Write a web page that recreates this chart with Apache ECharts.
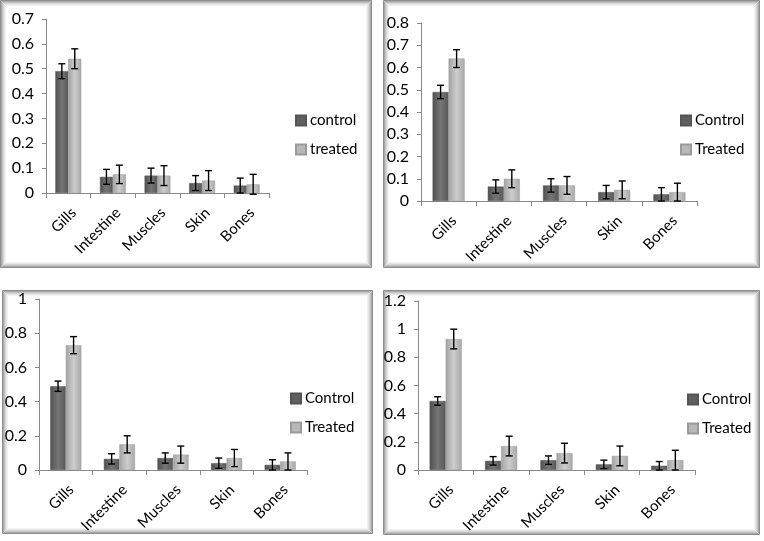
<!DOCTYPE html>
<html>
<head>
<meta charset="utf-8">
<script src="https://cdn.jsdelivr.net/npm/echarts@6/dist/echarts.min.js"></script>
<style>html,body{margin:0;padding:0;background:#fff;}#c{width:764px;height:541px;}</style>
</head>
<body>
<div id="c"></div>
<script>
const categories = ['Gills', 'Intestine', 'Muscles', 'Skin', 'Bones'];

// Panel 1 (top-left)
const p1Names = ['control', 'treated'];
const p1Control = [0.49, 0.065, 0.07, 0.04, 0.03];
const p1ControlErr = [0.03, 0.03, 0.03, 0.03, 0.03];
const p1Treated = [0.54, 0.075, 0.07, 0.05, 0.035];
const p1TreatedErr = [0.04, 0.037, 0.04, 0.04, 0.04];
const p1Axis = { max: 0.7, interval: 0.1 };

// Panel 2 (top-right)
const p2Names = ['Control', 'Treated'];
const p2Control = [0.49, 0.065, 0.07, 0.04, 0.03];
const p2ControlErr = [0.03, 0.03, 0.03, 0.03, 0.03];
const p2Treated = [0.64, 0.10, 0.07, 0.05, 0.04];
const p2TreatedErr = [0.04, 0.04, 0.04, 0.04, 0.04];
const p2Axis = { max: 0.8, interval: 0.1 };

// Panel 3 (bottom-left)
const p3Names = ['Control', 'Treated'];
const p3Control = [0.49, 0.065, 0.07, 0.04, 0.03];
const p3ControlErr = [0.03, 0.03, 0.03, 0.03, 0.03];
const p3Treated = [0.73, 0.15, 0.09, 0.07, 0.05];
const p3TreatedErr = [0.05, 0.05, 0.05, 0.05, 0.05];
const p3Axis = { max: 1, interval: 0.2 };

// Panel 4 (bottom-right)
const p4Names = ['Control', 'Treated'];
const p4Control = [0.49, 0.065, 0.07, 0.04, 0.03];
const p4ControlErr = [0.03, 0.03, 0.03, 0.03, 0.03];
const p4Treated = [0.93, 0.17, 0.12, 0.10, 0.07];
const p4TreatedErr = [0.07, 0.07, 0.07, 0.07, 0.07];
const p4Axis = { max: 1.2, interval: 0.2 };

const panels = [
  { names: p1Names, c: p1Control, ce: p1ControlErr, t: p1Treated, te: p1TreatedErr, axis: p1Axis,
    grid: { left: 46, top: 19, width: 223, height: 174 }, legend: { left: 290, top: 108 },
    frame: [0, 0, 372, 268] },
  { names: p2Names, c: p2Control, ce: p2ControlErr, t: p2Treated, te: p2TreatedErr, axis: p2Axis,
    grid: { left: 421, top: 23, width: 276, height: 178 }, legend: { left: 675, top: 108 },
    frame: [383, 0, 377, 268] },
  { names: p3Names, c: p3Control, ce: p3ControlErr, t: p3Treated, te: p3TreatedErr, axis: p3Axis,
    grid: { left: 39, top: 299, width: 268, height: 171 }, legend: { left: 285, top: 386 },
    frame: [2, 290, 371, 244] },
  { names: p4Names, c: p4Control, ce: p4ControlErr, t: p4Treated, te: p4TreatedErr, axis: p4Axis,
    grid: { left: 418, top: 301, width: 277, height: 169 }, legend: { left: 682, top: 387 },
    frame: [383, 290, 377, 245] }
];

const FONT = 'Lato';
const controlColor = new echarts.graphic.LinearGradient(0, 0, 1, 0, [
  { offset: 0, color: '#4f4f4f' }, { offset: 0.5, color: '#767676' }, { offset: 1, color: '#585858' }]);
const treatedColor = new echarts.graphic.LinearGradient(0, 0, 1, 0, [
  { offset: 0, color: '#a2a2a2' }, { offset: 0.5, color: '#cdcdcd' }, { offset: 1, color: '#a8a8a8' }]);

const grids = [], xAxes = [], yAxes = [], series = [], legends = [], graphics = [];

function errRender(sign) {
  return function (params, api) {
    const idx = api.value(0);
    const lo = api.coord([idx, api.value(1)]);
    const hi = api.coord([idx, api.value(2)]);
    const band = api.size([1, 0])[0];
    const x = lo[0] + sign * band * 0.145;
    const cap = 3.5;
    const st = { stroke: '#000', lineWidth: 1.4 };
    return {
      type: 'group',
      children: [
        { type: 'line', shape: { x1: x, y1: lo[1], x2: x, y2: hi[1] }, style: st },
        { type: 'line', shape: { x1: x - cap, y1: lo[1], x2: x + cap, y2: lo[1] }, style: st },
        { type: 'line', shape: { x1: x - cap, y1: hi[1], x2: x + cap, y2: hi[1] }, style: st }
      ]
    };
  };
}

panels.forEach((p, i) => {
  const f = p.frame;
  const shades = ['#8e8e8e', '#a9a9a9', '#c2c2c2', '#d6d6d6', '#e6e6e6', '#f3f3f3'];
  shades.forEach((col, k) => {
    graphics.push({ type: 'rect', silent: true, z: -10,
      shape: { x: f[0] + k + 0.5, y: f[1] + k + 0.5, width: f[2] - 2 * k - 1, height: f[3] - 2 * k - 1 },
      style: { fill: null, stroke: col, lineWidth: 1 } });
  });

  grids.push(Object.assign({ containLabel: false }, p.grid));
  xAxes.push({
    type: 'category', gridIndex: i, data: categories,
    axisLine: { lineStyle: { color: '#8a8a8a', width: 1 } },
    axisTick: { show: true, alignWithLabel: false, length: 5, lineStyle: { color: '#8a8a8a' } },
    axisLabel: { rotate: 45, color: '#000', fontFamily: FONT, fontSize: 15, margin: 12, interval: 0,
      verticalAlign: 'top' }
  });
  yAxes.push({
    type: 'value', gridIndex: i, min: 0, max: p.axis.max, interval: p.axis.interval,
    splitLine: { show: false },
    axisLine: { show: true, lineStyle: { color: '#8a8a8a', width: 1 } },
    axisTick: { show: true, length: 4, lineStyle: { color: '#8a8a8a' } },
    axisLabel: { color: '#000', fontFamily: FONT, fontSize: 16, margin: 12 }
  });
  series.push({
    name: p.names[0], type: 'bar', xAxisIndex: i, yAxisIndex: i, data: p.c,
    barGap: '0%', barCategoryGap: '42%',
    itemStyle: { color: controlColor, borderColor: '#555', borderWidth: 0.5 }
  });
  series.push({
    name: p.names[1], type: 'bar', xAxisIndex: i, yAxisIndex: i, data: p.t,
    barGap: '0%', barCategoryGap: '42%',
    itemStyle: { color: treatedColor, borderColor: '#9a9a9a', borderWidth: 0.5 }
  });
  series.push({
    type: 'custom', xAxisIndex: i, yAxisIndex: i, z: 5, silent: true,
    renderItem: errRender(-1),
    data: p.c.map((v, j) => [j, v - p.ce[j], v + p.ce[j]])
  });
  series.push({
    type: 'custom', xAxisIndex: i, yAxisIndex: i, z: 5, silent: true,
    renderItem: errRender(1),
    data: p.t.map((v, j) => [j, v - p.te[j], v + p.te[j]])
  });
  legends.push({
    data: [
      { name: p.names[0], itemStyle: { color: '#606060' } },
      { name: p.names[1], itemStyle: { color: '#b8b8b8' } }
    ],
    orient: 'vertical', left: p.legend.left, top: p.legend.top,
    icon: 'rect', itemWidth: 10, itemHeight: 10, itemGap: 14,
    textStyle: { fontFamily: FONT, fontSize: 15, color: '#000', lineHeight: 15, padding: [0, 0, 0, -1] },
    selectedMode: false
  });
});

const chart = echarts.init(document.getElementById('c'), null, { renderer: 'canvas' });
chart.setOption({
  backgroundColor: '#fff',
  animation: false,
  grid: grids, xAxis: xAxes, yAxis: yAxes, series: series, legend: legends,
  graphic: graphics
});
</script>
</body>
</html>
